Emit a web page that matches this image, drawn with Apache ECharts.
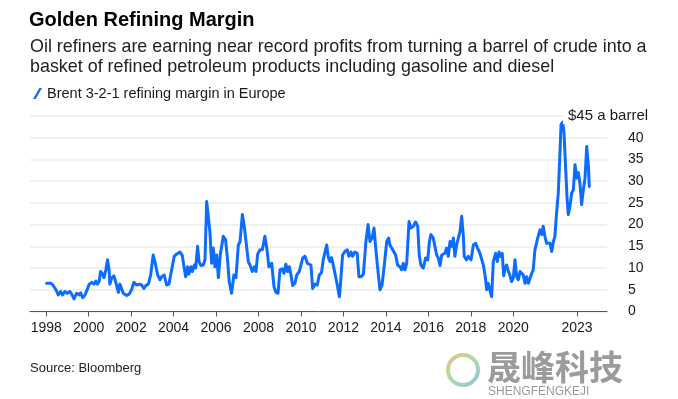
<!DOCTYPE html>
<html>
<head>
<meta charset="utf-8">
<script src="https://cdn.jsdelivr.net/npm/echarts@6/dist/echarts.min.js"></script>
<style>
html,body{margin:0;padding:0;background:#fff;}
#chart{width:678px;height:399px;}
</style>
</head>
<body>
<div id="chart"></div>
<script>
const years = [
1998.02,1998.22,1998.33,1998.46,1998.57,1998.68,1998.77,1998.88,1998.99,1999.12,1999.20,1999.31,1999.43,1999.56,1999.62,1999.72,1999.83,1999.90,
2000.03,2000.14,2000.25,2000.34,2000.41,2000.50,2000.56,2000.66,2000.72,2000.81,2000.89,2000.96,2001.00,2001.08,2001.19,2001.29,2001.40,2001.47,2001.55,2001.63,2001.79,2001.91,
2002.02,2002.13,2002.26,2002.39,2002.49,2002.60,2002.70,2002.81,2002.92,2003.04,2003.12,2003.25,2003.36,2003.44,2003.56,2003.67,2003.78,2003.91,
2004.03,2004.14,2004.30,2004.41,2004.50,2004.57,2004.66,2004.72,2004.82,2004.88,2004.98,2005.04,2005.13,2005.20,2005.29,2005.40,2005.48,2005.56,2005.64,2005.71,2005.79,2005.87,2005.95,
2006.03,2006.11,2006.20,2006.34,2006.45,2006.55,2006.62,2006.73,2006.84,2006.94,2007.05,2007.13,2007.24,2007.33,2007.41,2007.52,2007.60,2007.71,2007.80,2007.88,2007.96,
2008.07,2008.18,2008.30,2008.40,2008.49,2008.62,2008.73,2008.82,2008.92,2009.01,2009.11,2009.20,2009.29,2009.37,2009.45,2009.53,2009.61,2009.72,2009.80,2009.92,
2010.00,2010.08,2010.19,2010.30,2010.39,2010.47,2010.55,2010.66,2010.77,2010.86,2010.97,2011.05,2011.13,2011.21,2011.29,2011.37,2011.44,2011.52,2011.60,2011.71,2011.81,2011.87,2011.96,
2012.07,2012.18,2012.26,2012.36,2012.43,2012.54,2012.65,2012.73,2012.83,2012.94,2013.06,2013.16,2013.25,2013.35,2013.44,2013.53,2013.63,2013.72,2013.82,2013.91,
2014.04,2014.13,2014.19,2014.27,2014.35,2014.46,2014.55,2014.66,2014.74,2014.82,2014.90,2014.98,2015.09,2015.18,2015.29,2015.40,2015.50,2015.57,2015.65,2015.76,2015.87,2015.97,
2016.05,2016.12,2016.23,2016.31,2016.39,2016.47,2016.55,2016.63,2016.70,2016.78,2016.86,2016.94,2017.02,2017.10,2017.18,2017.25,2017.33,2017.41,2017.49,2017.57,2017.65,2017.69,2017.80,2017.88,
2018.01,2018.12,2018.23,2018.32,2018.43,2018.51,2018.59,2018.67,2018.75,2018.82,2018.90,2018.98,2019.06,2019.17,2019.25,2019.33,2019.41,2019.48,2019.55,2019.61,2019.69,2019.77,2019.84,2019.92,
2020.00,2020.08,2020.16,2020.24,2020.32,2020.39,2020.47,2020.55,2020.63,2020.71,2020.79,2020.87,2020.94,2021.02,2021.15,2021.26,2021.34,2021.41,2021.49,2021.57,2021.65,2021.73,2021.81,2021.89,2021.96,
2022.04,2022.12,2022.20,2022.25,2022.33,2022.39,2022.47,2022.53,2022.59,2022.67,2022.75,2022.83,2022.91,2022.99,2023.06,2023.14,2023.22,2023.30,2023.38,2023.46,2023.54,2023.58
];
const margins = [
6.5,6.5,6.0,5.0,3.8,4.6,3.8,4.6,4.2,4.6,4.0,2.9,4.2,3.8,4.3,3.2,3.8,3.4,
6.3,6.7,6.3,7.0,6.3,7.0,9.2,8.6,7.8,9.6,11.9,9.6,6.3,7.7,8.2,6.5,4.4,6.3,5.3,4.2,3.7,4.0,
5.0,6.7,6.1,6.3,6.1,5.3,6.0,6.3,8.4,13.0,11.5,8.4,7.3,8.0,8.4,6.1,6.3,9.6,
12.7,13.2,13.7,12.9,10.0,8.0,10.3,8.6,10.3,9.2,10.7,10.0,15.0,11.5,10.6,10.7,11.9,25.3,25.2,18.4,11.1,14.6,10.3,
13.0,7.8,13.0,17.3,16.5,11.5,6.9,4.2,8.4,7.8,15.3,16.1,22.3,19.6,19.2,11.5,10.7,9.2,10.3,9.2,13.2,
14.2,14.2,17.3,14.2,10.3,11.1,5.7,4.4,4.2,9.6,9.8,8.8,10.9,9.2,10.3,8.4,6.0,6.5,8.4,9.2,
9.2,12.3,12.7,11.1,11.5,10.7,5.3,6.3,6.1,8.4,9.0,11.9,11.9,15.3,12.4,11.5,12.4,10.7,8.8,6.1,3.4,6.9,13.0,
13.8,14.2,12.7,13.7,12.7,13.7,13.4,8.0,8.0,8.6,16.1,20.0,16.1,16.9,19.2,14.2,9.2,5.0,6.1,10.0,
16.1,16.9,15.3,14.6,15.0,13.0,10.7,10.3,9.6,11.1,9.6,11.1,20.7,19.2,19.6,20.6,19.6,13.0,10.7,10.0,12.3,11.9,
16.1,17.7,16.9,16.5,13.0,12.3,10.6,13.0,12.9,13.4,14.6,12.7,16.1,15.0,16.9,12.7,15.3,15.7,18.4,21.9,17.3,12.7,11.9,12.7,
11.9,15.3,15.7,14.6,13.4,13.8,10.7,8.4,5.0,6.5,6.1,3.4,11.5,13.4,11.5,13.7,12.7,13.4,8.2,10.0,10.7,9.2,8.4,6.9,
7.7,11.9,8.0,7.3,9.2,9.6,8.4,6.5,8.0,6.5,6.1,8.8,9.6,14.2,16.9,18.8,17.7,19.6,17.3,15.7,16.1,15.7,13.8,16.1,17.3,
22.7,27.3,36.5,43.0,43.6,41.1,32.7,26.5,22.3,24.2,27.3,28.0,33.8,30.7,32.0,29.6,24.6,28.0,30.7,38.0,33.4,28.8
];
const xTickYears = [1998,2000,2002,2004,2006,2008,2010,2012,2014,2016,2018,2020,2023];
const seriesName = 'Brent 3-2-1 refining margin in Europe';
const titleText = 'Golden Refining Margin';
const subtitleLines = ['Oil refiners are earning near record profits from turning a barrel of crude into a',
                       'basket of refined petroleum products including gasoline and diesel'];
const topLabel = '$45 a barrel';
const sourceText = 'Source: Bloomberg';

const FONT = '"Liberation Sans", Arial, Helvetica, sans-serif';
const chart = echarts.init(document.getElementById('chart'), null, {renderer:'canvas'});

const option = {
  backgroundColor:'#ffffff',
  animation:false,
  textStyle:{fontFamily:FONT},
  grid:{left:30, right:71, top:116, bottom:87.5, containLabel:false},
  legend:{
    left:28, top:81, itemWidth:9, itemHeight:12, itemGap:6,
    textStyle:{fontSize:14.5, color:'#1a1a1a', fontFamily:FONT},
    data:[{name:seriesName, icon:'path://M7,0 L10,0 L3,12 L0,12 Z'}]
  },
  xAxis:{
    type:'value', min:1997.237, max:2024.415,
    axisLine:{show:true, lineStyle:{color:'#555', width:1}},
    axisTick:{show:true, length:5, lineStyle:{color:'#555'}, customValues:xTickYears},
    axisLabel:{fontSize:14, color:'#1a1a1a', margin:10, fontFamily:FONT,
      customValues:xTickYears, formatter:v=>String(Math.round(v))},
    splitLine:{show:false}
  },
  yAxis:{
    type:'value', position:'right', min:0, max:45, interval:5,
    axisLine:{show:false}, axisTick:{show:false},
    axisLabel:{fontSize:14, color:'#1a1a1a', margin:21, align:'left', fontFamily:FONT,
      formatter:v=> v===45 ? '' : String(v)},
    splitLine:{show:true, lineStyle:{color:'#ebebeb', width:1.5}}
  },
  series:[{
    name:seriesName, type:'line', showSymbol:false,
    data: years.map((y,i)=>[y, margins[i]]),
    lineStyle:{color:'#0b6cff', width:3, join:'round', cap:'round'},
    itemStyle:{color:'#0b6cff'}
  }],
  graphic:[
    {type:'text', left:29, top:10, style:{text:titleText, font:'bold 20px '+FONT, fill:'#000'}},
    {type:'text', left:30, top:38, style:{text:subtitleLines[0], font:'17.9px '+FONT, fill:'#222'}},
    {type:'text', left:30, top:58, style:{text:subtitleLines[1], font:'17.9px '+FONT, fill:'#222'}},
    {type:'text', left:30, top:362, style:{text:sourceText, font:'13px '+FONT, fill:'#222'}},
    {type:'text', left:563, top:107, z:10, style:{text:topLabel, font:'15px '+FONT, fill:'#1a1a1a',
      backgroundColor:'#ffffff', padding:[1,4,1,5]}},
    // watermark
    {type:'circle', shape:{cx:463, cy:370, r:15}, style:{fill:'none', lineWidth:4,
      stroke:new echarts.graphic.LinearGradient(0,0,1,1,[{offset:0,color:'#f2a65a'},{offset:0.5,color:'#8fd18a'},{offset:1,color:'#6aa8e8'}]), opacity:0.75}},
    {type:'text', left:487, top:350, style:{text:'晟峰科技', font:'bold 34px "Noto Sans CJK SC", sans-serif', fill:'#8a8a8a', opacity:0.85}},
    {type:'text', left:488, top:386, style:{text:'SHENGFENGKEJI', font:'12px '+FONT, fill:'#9a9a9a'}}
  ]
};
chart.setOption(option);
</script>
</body>
</html>
